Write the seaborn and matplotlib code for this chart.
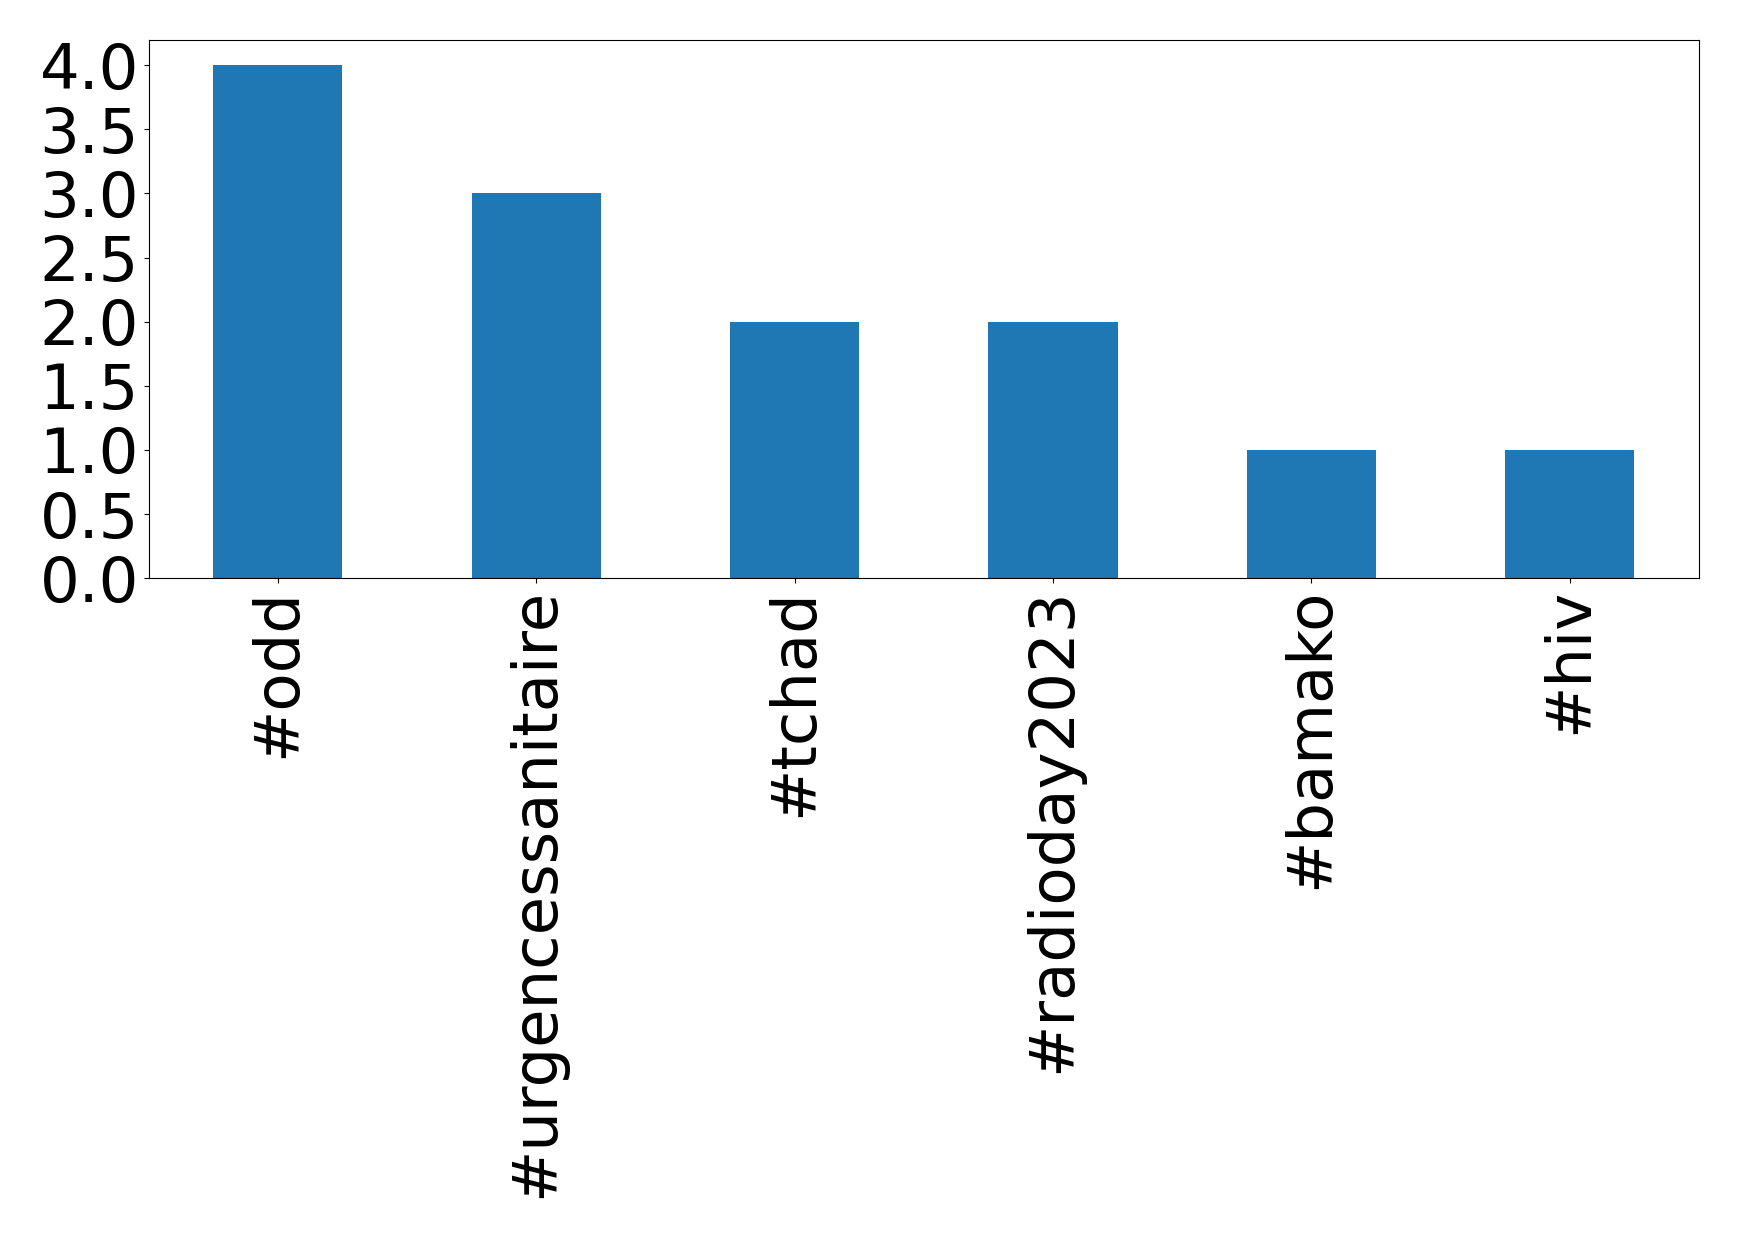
import matplotlib
matplotlib.use("Agg")
import matplotlib.pyplot as plt
import seaborn as sns
import pandas as pd

# hashtag counts
hashtags = ["#odd", "#urgencessanitaire", "#tchad", "#radioday2023", "#bamako", "#hiv"]
counts = [4, 3, 2, 2, 1, 1]

data = pd.DataFrame({"hashtag": hashtags, "count": counts})

fig = plt.figure(figsize=(17.39, 12.38), dpi=100)
ax = fig.add_axes([0.0855, 0.533, 0.8915, 0.435])
sns.barplot(data=data, x="hashtag", y="count", color="#1f77b4",
            saturation=1, width=0.5, ax=ax)
ax.set_xlabel("")
ax.set_ylabel("")
ax.set_yticks([0, 0.5, 1.0, 1.5, 2.0, 2.5, 3.0, 3.5, 4.0])
ax.set_yticklabels([f"{v:.1f}" for v in ax.get_yticks()])
ax.set_ylim(0, 4.2)
ax.tick_params(axis="both", labelsize=45)
plt.setp(ax.get_xticklabels(), rotation=90)
fig.savefig("out.png", dpi=100)
